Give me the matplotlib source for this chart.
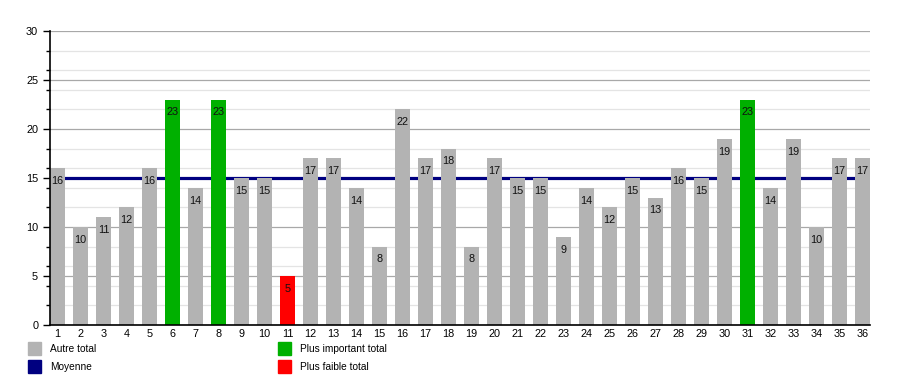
import matplotlib
matplotlib.use("Agg")
import matplotlib.pyplot as plt
from matplotlib.patches import Rectangle
from matplotlib.ticker import MultipleLocator

plt.rcParams['font.family'] = ['Liberation Sans', 'DejaVu Sans']

categories = [str(i) for i in range(1, 37)]
values = [16, 10, 11, 12, 16, 23, 14, 23, 15, 15, 5, 17, 17, 14, 8, 22, 17, 18,
          8, 17, 15, 15, 9, 14, 12, 15, 13, 16, 15, 19, 23, 14, 19, 10, 17, 17]
mean_value = 15
highest = [6, 8, 31]
lowest = [11]
legend_labels = ["Autre total", "Moyenne", "Plus important total", "Plus faible total"]

GRAY = "#b3b3b3"
GREEN = "#00b000"
RED = "#ff0000"
NAVY = "#000080"

colors = []
for c in categories:
    n = int(c)
    if n in highest:
        colors.append(GREEN)
    elif n in lowest:
        colors.append(RED)
    else:
        colors.append(GRAY)

fig = plt.figure(figsize=(9, 3.75), dpi=100)
ax = fig.add_axes([50/900, 1-325/375, 820/900, 294/375])

x = list(range(1, 37))
width = 0.65
ax.axhline(mean_value, color=NAVY, lw=2.3, zorder=1.5)
ax.bar(x, values, width=width, color=colors, zorder=2)

for xi, v in zip(x, values):
    ax.text(xi, v - 1.3, str(v), ha='center', va='center', fontsize=7.8, color='#111111', zorder=4)

ax.set_xlim(1 - width/2, 36 + width/2)
ax.set_ylim(0, 30)
ax.yaxis.set_major_locator(MultipleLocator(5))
ax.yaxis.set_minor_locator(MultipleLocator(2))
ax.grid(True, which='major', axis='y', color='#a8a8a8', lw=0.9, zorder=0)
ax.grid(True, which='minor', axis='y', color='#e4e4e4', lw=0.9, zorder=0)
ax.set_axisbelow(True)

ax.set_xticks(x)
ax.set_xticklabels(categories)
ax.tick_params(axis='x', length=0, labelsize=7.8, pad=3)
ax.tick_params(axis='y', which='major', length=5, width=1, labelsize=7.8, direction='out')
ax.tick_params(axis='y', which='minor', length=3, width=1, direction='out')

for s in ['top', 'right']:
    ax.spines[s].set_visible(False)
ax.spines['left'].set_color('black')
ax.spines['bottom'].set_color('black')
ax.spines['left'].set_linewidth(1.2)
ax.spines['bottom'].set_linewidth(1.2)

# legend
leg_items = [
    (28, 342, GRAY, legend_labels[0]),
    (28, 360, NAVY, legend_labels[1]),
    (278, 342, GREEN, legend_labels[2]),
    (278, 360, RED, legend_labels[3]),
]
for lx, ly, col, lab in leg_items:
    fig.patches.append(Rectangle((lx/900, 1-(ly+13)/375), 13/900, 13/375,
                                 transform=fig.transFigure, color=col, figure=fig))
    fig.text((lx+22)/900, 1-(ly+7)/375, lab, ha='left', va='center', fontsize=7.3)

fig.savefig("out.png", dpi=100)
